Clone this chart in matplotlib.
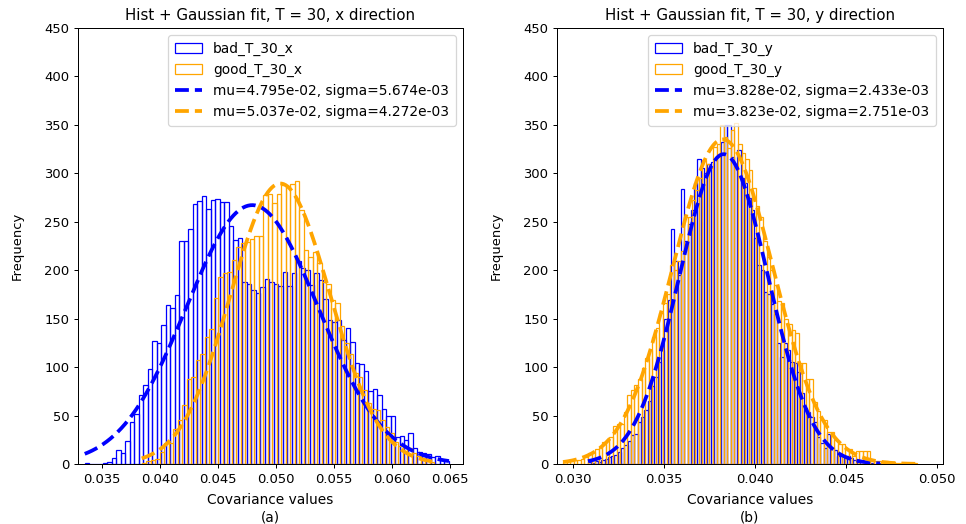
import numpy as np
import matplotlib.pyplot as plt

# Histogram bin counts (bins are equal width over each range)
bad_x_counts = [1, 0, 0, 0, 1,
                2, 6, 14, 11, 24,
                43, 52, 71, 82, 98,
                127, 125, 143, 164, 161,
                174, 230, 230, 243, 268,
                271, 277, 263, 272, 274,
                270, 270, 246, 231, 233,
                188, 186, 180, 177, 183,
                191, 188, 186, 184, 198,
                184, 197, 210, 202, 200,
                185, 197, 190, 170, 149,
                147, 149, 128, 140, 126,
                104, 103, 96, 75, 77,
                71, 57, 50, 50, 28,
                29, 25, 32, 16, 12,
                11, 10, 7, 8, 4, 3]
bad_x_range = (0.03351, 0.06491)

good_x_counts = [1, 3, 4, 5, 12, 22, 22, 36, 45, 61,
                 88, 90, 107, 114, 131, 139, 171, 193, 197, 198,
                 211, 224, 228, 229, 232, 235, 235, 278, 279, 269,
                 279, 288, 287, 289, 292, 262, 221, 214, 219, 207,
                 188, 186, 169, 166, 142, 125, 114, 94, 90, 76,
                 63, 57, 56, 45, 38, 32, 23, 19, 18, 16,
                 11, 8, 6, 4, 2]
good_x_range = (0.03842, 0.06364)

bad_y_counts = [2, 1, 3, 2, 4, 5, 7, 8, 9, 12,
                16, 20, 24, 30, 31, 43, 48, 56, 65, 80,
                90, 105, 118, 150, 169, 243, 210, 195, 284, 230,
                248, 262, 290, 315, 305, 300, 310, 312, 314, 318,
                332, 350, 350, 317, 310, 324, 295, 290, 275, 262,
                233, 205, 200, 178, 175, 165, 155, 125, 110, 125,
                118, 105, 104, 95, 73, 58, 54, 48, 43, 28,
                22, 17, 31, 17, 14, 8, 8, 6, 8, 6,
                4, 2, 3, 2, 1, 1, 0, 1]
bad_y_range = (0.03082, 0.04687)

good_y_counts = [2, 3, 3, 4, 4, 5, 7, 11, 12, 15,
                 18, 23, 25, 28, 39, 41, 41, 54, 71, 76,
                 82, 88, 99, 109, 118, 131, 140, 156, 166, 175,
                 205, 200, 210, 220, 255, 255, 272, 283, 295, 314,
                 310, 305, 327, 330, 350, 338, 326, 345, 352, 330,
                 321, 315, 303, 285, 266, 255, 230, 214, 200, 185,
                 168, 166, 150, 145, 138, 135, 104, 104, 88, 88,
                 64, 55, 45, 45, 33, 33, 25, 21, 21, 15,
                 15, 8, 13, 13, 13, 13, 4, 3, 3, 2,
                 3, 1, 2, 1, 1, 0, 1, 0, 1]
good_y_range = (0.02945, 0.04888)

# Gaussian fit parameters (mu, sigma from the legend; area = samples * bin width)
bad_x_fit = (4.795e-02, 5.674e-03, 3.80)
good_x_fit = (5.037e-02, 4.272e-03, 3.10)
bad_y_fit = (3.828e-02, 2.433e-03, 1.95)
good_y_fit = (3.823e-02, 2.751e-03, 2.31)


def gauss(x, mu, sigma):
    return np.exp(-0.5 * ((x - mu) / sigma) ** 2) / (sigma * np.sqrt(2 * np.pi))


def draw(ax, series, title, xlabel, xlim):
    hist_handles = []
    line_handles = []
    for name, counts, rng, fit, color in series:
        edges = np.linspace(rng[0], rng[1], len(counts) + 1)
        centers = 0.5 * (edges[:-1] + edges[1:])
        _, _, patches = ax.hist(centers, bins=edges, weights=counts, fill=False,
                                edgecolor=color, linewidth=1, label=name)
        hist_handles.append(patches[0])
        mu, sigma, area = fit
        xs = np.linspace(rng[0], rng[1], 300)
        line, = ax.plot(xs, gauss(xs, mu, sigma) * area, '--',
                        color=color, linewidth=3,
                        label='mu=%.3e, sigma=%.3e' % (mu, sigma))
        line_handles.append(line)
    ax.set_xlim(*xlim)
    ax.set_ylim(0, 450)
    ax.set_yticks(np.arange(0, 451, 50))
    ax.tick_params(labelsize=10.5)
    ax.set_title(title, fontsize=12)
    ax.set_xlabel(xlabel, fontsize=11, labelpad=6, linespacing=1.3)
    ax.set_ylabel('Frequency', fontsize=10.5, labelpad=16)
    ax.legend(handles=hist_handles + line_handles, loc='upper right',
              fontsize=11, borderpad=0.5)


fig = plt.figure(figsize=(967 / 90, 524 / 90), dpi=90)
ax1 = fig.add_axes([0.0807, 0.1145, 0.3981, 0.8321])
ax2 = fig.add_axes([0.576, 0.1145, 0.3992, 0.8321])

draw(ax1, [('bad_T_30_x', bad_x_counts, bad_x_range, bad_x_fit, 'blue'),
           ('good_T_30_x', good_x_counts, good_x_range, good_x_fit, 'orange')],
     'Hist + Gaussian fit, T = 30, x direction', 'Covariance values\n(a)',
     (0.03293, 0.06612))
ax1.set_xticks([0.035, 0.040, 0.045, 0.050, 0.055, 0.060, 0.065])

draw(ax2, [('bad_T_30_y', bad_y_counts, bad_y_range, bad_y_fit, 'blue'),
           ('good_T_30_y', good_y_counts, good_y_range, good_y_fit, 'orange')],
     'Hist + Gaussian fit, T = 30, y direction', 'Covariance values\n(b)',
     (0.02912, 0.05033))
ax2.set_xticks([0.030, 0.035, 0.040, 0.045, 0.050])

plt.savefig('out.png', dpi=90)
